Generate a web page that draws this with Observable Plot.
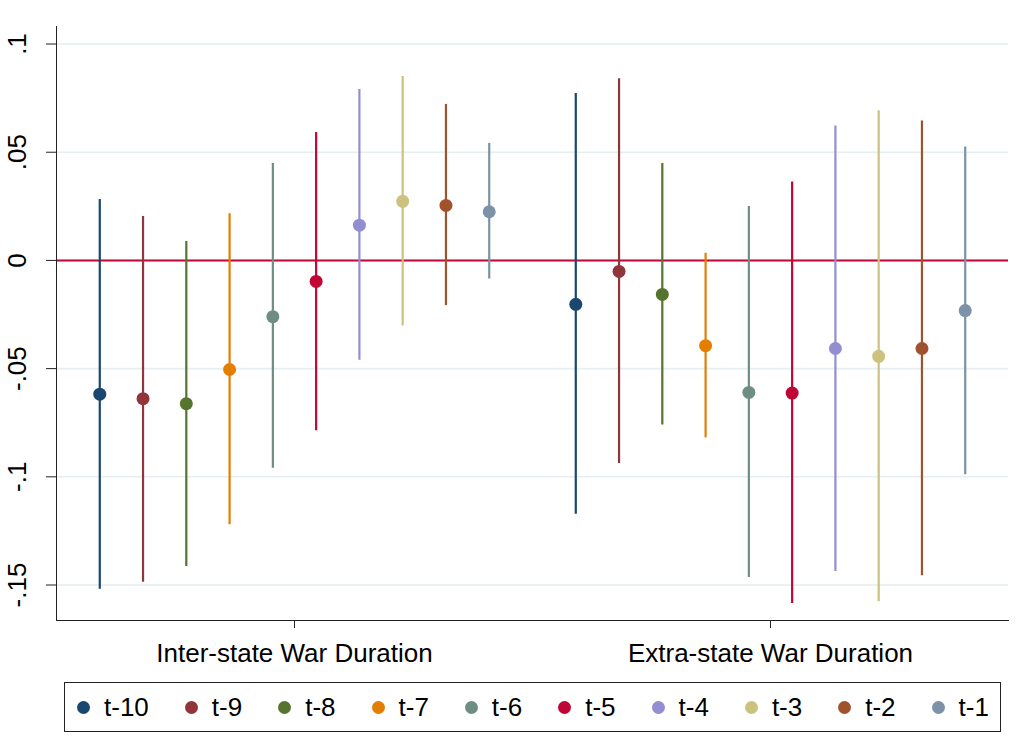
<!DOCTYPE html>
<html>
<head>
<meta charset="utf-8">
<script src="https://cdn.jsdelivr.net/npm/d3@7"></script>
<script src="https://cdn.jsdelivr.net/npm/@observablehq/plot@0.6"></script>
<style>
  html, body { margin: 0; padding: 0; background: #fff; }
  body { width: 1034px; height: 736px; position: relative; font-family: "Liberation Sans", Arial, sans-serif; }
  #chart { position: absolute; left: 0; top: 0; }
  #legend {
    position: absolute; left: 64px; top: 682px; width: 923px; height: 48px;
    border: 1px solid #222; display: flex; align-items: center; box-sizing: content-box;
    padding-left: 12px;
  }
  .item { display: flex; align-items: center; margin-right: 36px; font-size: 26px; color: #000; line-height: 1; }
  .item:last-child { margin-right: 0; }
  .sw { width: 13px; height: 13px; border-radius: 50%; margin-right: 14px; flex: none; }
</style>
</head>
<body>
<div id="chart"></div>
<div id="legend"></div>
<script>
const groups = ["Inter-state War Duration", "Extra-state War Duration"];
const lags = ["t-10", "t-9", "t-8", "t-7", "t-6", "t-5", "t-4", "t-3", "t-2", "t-1"];
const colors = ["#1a476f", "#90353b", "#55752f", "#e37e00", "#6e8e84", "#c10534", "#938dd2", "#cac27e", "#a0522d", "#7b92a8"];

// Inter-state War Duration
const est1 = [-0.0618, -0.0639, -0.0662, -0.0504, -0.0260, -0.0097, 0.0163, 0.0273, 0.0254, 0.0225];
const lo1  = [-0.1520, -0.1487, -0.1414, -0.1222, -0.0960, -0.0787, -0.0461, -0.0303, -0.0209, -0.0086];
const hi1  = [0.0282, 0.0203, 0.0088, 0.0216, 0.0448, 0.0591, 0.0790, 0.0850, 0.0721, 0.0541];
// Extra-state War Duration
const est2 = [-0.0203, -0.0051, -0.0157, -0.0394, -0.0610, -0.0613, -0.0407, -0.0443, -0.0407, -0.0232];
const lo2  = [-0.1173, -0.0938, -0.0761, -0.0820, -0.1465, -0.1586, -0.1438, -0.1577, -0.1457, -0.0990];
const hi2  = [0.0771, 0.0839, 0.0448, 0.0033, 0.0249, 0.0362, 0.0621, 0.0692, 0.0644, 0.0524];

const yTicks = [-0.15, -0.1, -0.05, 0, 0.05, 0.1];
const yTickLabels = ["-.15", "-.1", "-.05", "0", ".05", ".1"];

const series = [[est1, lo1, hi1], [est2, lo2, hi2]];
const rows = [];
series.forEach(([est, lo, hi], g) => {
  lags.forEach((lag, i) => {
    rows.push({pos: g * (lags.length + 1) + i, group: groups[g], lag, est: est[i], lo: lo[i], hi: hi[i]});
  });
});
const groupCenters = groups.map((_, g) => g * (lags.length + 1) + (lags.length - 1) / 2);
const xDomain = [-1, 2 * lags.length + 1];
const yDomain = [-0.1664, 0.1081];

const chart = Plot.plot({
  width: 1034,
  height: 670,
  marginLeft: 56,
  marginRight: 26,
  marginTop: 26,
  marginBottom: 50,
  style: {fontFamily: "'Liberation Sans', Arial, sans-serif", fontSize: "26px", color: "#000", background: "#fff"},
  x: {domain: xDomain, axis: null},
  y: {domain: yDomain, axis: null},
  color: {domain: lags, range: colors},
  marks: [
    Plot.gridY(yTicks, {stroke: "#e6eef1", strokeOpacity: 1, strokeWidth: 1.6}),
    Plot.ruleY([0], {stroke: "#c10534", strokeWidth: 2}),
    Plot.ruleX(rows, {x: "pos", y1: "lo", y2: "hi", stroke: "lag", strokeWidth: 2.2}),
    Plot.dot(rows, {x: "pos", y: "est", fill: "lag", r: 6.5}),
    Plot.frame({anchor: "left", stroke: "#222"}),
    Plot.frame({anchor: "bottom", stroke: "#222"}),
    Plot.axisY({ticks: yTicks, tickSize: 10, tickFormat: () => "", label: null, stroke: "#222"}),
    Plot.text(yTicks, {y: d => d, text: (d, i) => yTickLabels[i], frameAnchor: "left", dx: -39, rotate: -90, textAnchor: "middle", lineAnchor: "middle", fontSize: 26, fill: "#000"}),
    Plot.axisX({ticks: groupCenters, tickSize: 8, tickPadding: 15, tickFormat: (d, i) => groups[i], label: null, fontSize: 26, stroke: "#222", fill: "#000"})
  ]
});
document.getElementById("chart").appendChild(chart);

const legend = document.getElementById("legend");
lags.forEach((lag, i) => {
  const item = document.createElement("div");
  item.className = "item";
  const sw = document.createElement("span");
  sw.className = "sw";
  sw.style.background = colors[i];
  const tx = document.createElement("span");
  tx.textContent = lag;
  item.appendChild(sw);
  item.appendChild(tx);
  legend.appendChild(item);
});
</script>
</body>
</html>
